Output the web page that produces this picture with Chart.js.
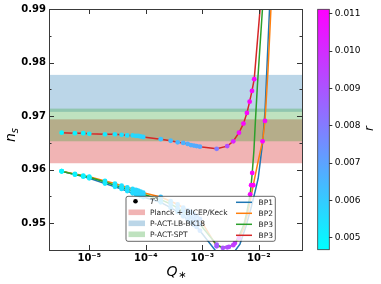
<!DOCTYPE html>
<html>
<head>
<meta charset="utf-8">
<script src="https://cdn.jsdelivr.net/npm/chart.js@4.4.1/dist/chart.umd.min.js"></script>
<style>
    html, body { margin: 0; padding: 0; background: #fff; }
    #wrap { position: relative; width: 381px; height: 284px; }
    #main { position: absolute; left: 0; top: 0; }
    #cbar { position: absolute; left: 300px; top: 0; }
</style>
</head>
<body>
<div id="wrap">
    <canvas id="main" width="381" height="284"></canvas>
    <canvas id="cbar" width="81" height="284"></canvas>
</div>
<script>
    "use strict";

    // ---- data ----
    var qLow = [3.25e-6, 5.58e-6, 7.83e-6, 1.0e-5, 1.90e-5, 2.85e-5, 3.74e-5, 4.71e-5, 5.86e-5, 6.71e-5, 7.36e-5, 8.12e-5, 9.03e-5,
        1.84e-4, 2.76e-4, 3.67e-4, 4.61e-4, 5.52e-4, 6.31e-4, 7.13e-4, 7.96e-4, 9.10e-4];
    var rLow = [0.0049, 0.0050, 0.0050, 0.0051, 0.0052, 0.0053, 0.0054, 0.0055, 0.0056, 0.0057, 0.0057, 0.0058, 0.0058,
        0.0062, 0.0064, 0.0065, 0.0066, 0.0067, 0.0067, 0.0068, 0.0068, 0.0069];

    var qRed = qLow.concat([1.80e-3, 2.77e-3, 3.54e-3, 4.47e-3, 5.36e-3, 6.18e-3, 6.90e-3, 7.59e-3, 8.32e-3, 1.09e-2]);
    var nsRed = [0.9669, 0.9668, 0.9668, 0.9667, 0.9666, 0.9666, 0.9665, 0.9664, 0.9664, 0.9663, 0.9663, 0.9662, 0.9661,
        0.9657, 0.9654, 0.9651, 0.9650, 0.9648, 0.9646, 0.9645, 0.9644, 0.9643,
        0.9639, 0.9644, 0.9653, 0.9669, 0.9686, 0.9706, 0.9727, 0.9747, 0.9769, 0.9917];
    var rRed = rLow.concat([0.0080, 0.0092, 0.0102, 0.0108, 0.0110, 0.0110, 0.0110, 0.0110, 0.0110, null]);

    var qOrange = qLow.concat([1.80e-3, 2.77e-3, 3.54e-3, 4.47e-3, 5.47e-3, 6.57e-3, 8.00e-3, 9.68e-3, 1.17e-2, 1.29e-2, 1.46e-2, 1.64e-2, 1.71e-2]);
    var nsOrange = [0.9597, 0.9592, 0.9589, 0.9587, 0.9579, 0.9574, 0.9570, 0.9567, 0.9564, 0.9562, 0.9561, 0.9559, 0.9557,
        0.9549, 0.9541, 0.9535, 0.9529, 0.9524, 0.9521, 0.9517, 0.9513, 0.9508,
        0.9457, 0.9455, 0.9459, 0.9472, 0.9491, 0.9524, 0.9571, 0.9614, 0.9653, 0.9691, 0.9786, 0.9898, 0.9936];
    var rOrange = rLow.concat([0.0088, 0.0092, 0.0096, 0.0100, null, null, 0.0110, null, 0.0110, 0.0110, null, null, null]);

    var qGreen = qLow.concat([1.80e-3, 2.32e-3, 2.97e-3, 3.79e-3, 4.47e-3, 5.47e-3, 6.18e-3, 7.05e-3, 7.33e-3, 7.67e-3, 8.22e-3, 8.75e-3, 9.48e-3, 1.16e-2, 1.20e-2]);
    var nsGreen = [0.9597, 0.9591, 0.9588, 0.9586, 0.9577, 0.9571, 0.9567, 0.9564, 0.9560, 0.9558, 0.9557, 0.9555, 0.9554,
        0.9544, 0.9536, 0.9528, 0.9522, 0.9516, 0.9511, 0.9508, 0.9504, 0.9498,
        0.9460, 0.9454, 0.9456, 0.9463, 0.9476, 0.9498, 0.9521, 0.9554, 0.9571, 0.9594, 0.9636, 0.9693, 0.9758, 0.9898, 0.9917];
    var rGreen = rLow.concat([0.0088, 0.0090, 0.0093, 0.0096, null, null, null, 0.0110, 0.0110, 0.0110, null, null, null, null, null]);

    var qBlue = qLow.concat([1.80e-3, 2.77e-3, 3.54e-3, 4.65e-3, 5.93e-3, 7.28e-3, 8.57e-3, 9.79e-3, 1.17e-2, 1.29e-2, 1.55e-2, 1.64e-2]);
    var nsBlue = [0.9597, 0.9591, 0.9587, 0.9584, 0.9574, 0.9568, 0.9564, 0.9560, 0.9556, 0.9554, 0.9553, 0.9551, 0.9549,
        0.9539, 0.9529, 0.9521, 0.9513, 0.9507, 0.9502, 0.9497, 0.9493, 0.9486,
        0.9446, 0.9438, 0.9444, 0.9461, 0.9494, 0.9528, 0.9558, 0.9584, 0.9650, 0.9708, 0.9898, 0.9936];
    var rBlue = rLow.concat([null, null, null, null, null, null, null, null, null, null, null, null]);

    // observational bands (ns ranges)
    var bandNames = ["Planck + BICEP/Keck", "P-ACT-LB-BK18", "P-ACT-SPT"];
    var bandLo = [0.9612, 0.9708, 0.9653];
    var bandHi = [0.9694, 0.9777, 0.9714];
    var bandColors = ["rgba(214,39,40,0.35)", "rgba(31,119,180,0.3)", "rgba(44,160,44,0.3)"];

    var curveNames = ["BP1", "BP2", "BP3", "BP3"];
    var curveColors = ["#1f77b4", "#ff7f0e", "#2ca02c", "#d62728"];

    var xTicks = [1e-5, 1e-4, 1e-3, 1e-2];
    var xTickLabels = ["10\u207b\u2075", "10\u207b\u2074", "10\u207b\u00b3", "10\u207b\u00b2"];
    var yTicks = [0.95, 0.96, 0.97, 0.98, 0.99];
    var yMinor = [0.945, 0.955, 0.965, 0.975, 0.985];
    var cbTicks = [0.005, 0.006, 0.007, 0.008, 0.009, 0.010, 0.011];
    var cbMin = 0.00468, cbMax = 0.01112;

    var FONT = "'DejaVu Sans', sans-serif";

    function coolColor(r) {
        var t = (r - cbMin) / (cbMax - cbMin);
        t = Math.max(0, Math.min(1, t));
        return "rgb(" + Math.round(255 * t) + "," + Math.round(255 * (1 - t)) + ",255)";
    }

    function pts(q, ns) {
        return q.map(function (v, i) { return {x: v, y: ns[i]}; });
    }

    function markers(q, ns, r) {
        var d = [], c = [];
        q.forEach(function (v, i) {
            if (r[i] !== null) {
                d.push({x: v, y: ns[i]});
                c.push(coolColor(r[i]));
            }
        });
        return {data: d, colors: c};
    }

    var curves = [
        [qBlue, nsBlue, rBlue],
        [qOrange, nsOrange, rOrange],
        [qGreen, nsGreen, rGreen],
        [qRed, nsRed, rRed]
    ];

    var datasets = [];
    curves.forEach(function (c, i) {
        datasets.push({
            type: "line",
            data: pts(c[0], c[1]),
            borderColor: curveColors[i],
            borderWidth: 1.5,
            pointRadius: 0,
            fill: false,
            tension: 0,
            order: 10 - i
        });
    });
    curves.forEach(function (c, i) {
        var m = markers(c[0], c[1], c[2]);
        datasets.push({
            type: "scatter",
            data: m.data,
            backgroundColor: m.colors,
            pointBackgroundColor: m.colors,
            pointBorderWidth: 0,
            pointRadius: 2.4,
            showLine: false,
            order: 1
        });
    });

    // bands, inward ticks, spines, legend, axis titles
    var decor = {
        id: "decor",
        beforeDatasetsDraw: function (chart) {
            var ctx = chart.ctx, a = chart.chartArea, y = chart.scales.y;
            ctx.save();
            bandLo.forEach(function (lo, i) {
                var top = y.getPixelForValue(bandHi[i]), bot = y.getPixelForValue(lo);
                ctx.fillStyle = bandColors[i];
                ctx.fillRect(a.left, top, a.right - a.left, bot - top);
            });
            ctx.restore();
        },
        afterDatasetsDraw: function (chart) {
            var ctx = chart.ctx, a = chart.chartArea, x = chart.scales.x, y = chart.scales.y;
            ctx.save();
            ctx.strokeStyle = "#333";
            ctx.lineWidth = 1;
            ctx.beginPath();
            xTicks.forEach(function (v) {
                var px = Math.round(x.getPixelForValue(v)) + 0.5;
                ctx.moveTo(px, a.bottom); ctx.lineTo(px, a.bottom - 5);
                ctx.moveTo(px, a.top); ctx.lineTo(px, a.top + 5);
            });
            yTicks.forEach(function (v) {
                var py = Math.round(y.getPixelForValue(v)) + 0.5;
                ctx.moveTo(a.left, py); ctx.lineTo(a.left + 5, py);
                ctx.moveTo(a.right, py); ctx.lineTo(a.right - 5, py);
            });
            yMinor.forEach(function (v) {
                var py = Math.round(y.getPixelForValue(v)) + 0.5;
                ctx.moveTo(a.left, py); ctx.lineTo(a.left + 2.5, py);
                ctx.moveTo(a.right, py); ctx.lineTo(a.right - 2.5, py);
            });
            ctx.stroke();
            ctx.strokeStyle = "#3a3a3a";
            ctx.strokeRect(Math.round(a.left) + 0.5, Math.round(a.top) + 0.5,
                Math.round(a.right - a.left), Math.round(a.bottom - a.top));

            // legend
            var lx = a.left + 77, ly = a.top + 187.3, lw = 149.3, lh = 45;
            ctx.fillStyle = "rgba(255,255,255,0.8)";
            ctx.strokeStyle = "rgba(0,0,0,0.75)";
            ctx.lineWidth = 0.8;
            ctx.beginPath();
            ctx.roundRect(lx, ly, lw, lh, 2);
            ctx.fill();
            ctx.stroke();

            var rows = [ly + 5, ly + 16, ly + 27, ly + 38];
            ctx.textBaseline = "middle";
            ctx.textAlign = "left";
            ctx.fillStyle = "#000";
            ctx.beginPath();
            ctx.arc(lx + 9.5, rows[0], 2.3, 0, Math.PI * 2);
            ctx.fill();
            ctx.font = "italic 7.5px " + FONT;
            ctx.fillStyle = "#222";
            ctx.fillText("T", lx + 24, rows[0] + 0.5);
            ctx.font = "5.5px " + FONT;
            ctx.fillText("3", lx + 28.8, rows[0] - 2);
            ctx.font = "7.5px " + FONT;
            bandNames.forEach(function (n, i) {
                ctx.fillStyle = bandColors[i];
                ctx.fillRect(lx + 2.5, rows[i + 1] - 2.8, 16.5, 5.6);
                ctx.fillStyle = "#222";
                ctx.fillText(n, lx + 24, rows[i + 1] + 0.5);
            });
            curveNames.forEach(function (n, i) {
                var ry = rows[i] + 1;
                ctx.strokeStyle = curveColors[i];
                ctx.lineWidth = 1.5;
                ctx.beginPath();
                ctx.moveTo(lx + 110, ry); ctx.lineTo(lx + 126, ry);
                ctx.stroke();
                ctx.fillStyle = "#222";
                ctx.fillText(n, lx + 132.5, ry + 0.5);
            });
            ctx.restore();
        },
        afterDraw: function (chart) {
            var ctx = chart.ctx;
            ctx.save();
            ctx.fillStyle = "#000";
            ctx.textAlign = "left";
            ctx.textBaseline = "alphabetic";
            // x title Q_*
            ctx.font = "italic 14px " + FONT;
            var qx = 166.5, qy = 276;
            ctx.fillText("Q", qx, qy);
            ctx.font = "10px " + FONT;
            ctx.fillText("\u2217", qx + 11.5, qy + 2);
            // y title n_s
            ctx.translate(15, 142);
            ctx.rotate(-Math.PI / 2);
            ctx.font = "italic 14px " + FONT;
            ctx.fillText("n", 0, 0);
            ctx.font = "italic 10px " + FONT;
            ctx.fillText("s", 8.8, 2.5);
            ctx.restore();
        }
    };

    new Chart(document.getElementById("main"), {
        type: "scatter",
        data: {datasets: datasets},
        options: {
            responsive: false,
            animation: false,
            layout: {padding: {left: 0, top: 9, right: 79, bottom: 0}},
            plugins: {legend: {display: false}, tooltip: {enabled: false}},
            scales: {
                x: {
                    type: "logarithmic",
                    min: 1.94e-6,
                    max: 5.83e-2,
                    afterBuildTicks: function (s) {
                        s.ticks = xTicks.map(function (v) { return {value: v}; });
                    },
                    afterFit: function (s) { s.height = 34; },
                    ticks: {
                        autoSkip: false,
                        maxRotation: 0,
                        padding: 2,
                        color: "#000",
                        font: {family: FONT, size: 10, weight: "bold"},
                        callback: function (v, i) { return xTickLabels[i]; }
                    },
                    grid: {display: false, drawTicks: false},
                    border: {display: false}
                },
                y: {
                    min: 0.945,
                    max: 0.99,
                    afterBuildTicks: function (s) {
                        s.ticks = yTicks.map(function (v) { return {value: v}; });
                    },
                    afterFit: function (s) { s.width = 49; },
                    ticks: {
                        padding: 3,
                        color: "#000",
                        font: {family: FONT, size: 10, weight: "bold"},
                        callback: function (v) { return v.toFixed(2); }
                    },
                    grid: {display: false, drawTicks: false},
                    border: {display: false}
                }
            }
        },
        plugins: [decor]
    });

    // colour bar for r
    var cbarDecor = {
        id: "cbarDecor",
        beforeDraw: function (chart) {
            var ctx = chart.ctx, a = chart.chartArea, s = chart.scales.y;
            var g = ctx.createLinearGradient(0, s.getPixelForValue(cbMin), 0, s.getPixelForValue(cbMax));
            g.addColorStop(0, coolColor(cbMin));
            g.addColorStop(1, coolColor(cbMax));
            ctx.save();
            ctx.fillStyle = g;
            ctx.fillRect(a.left, a.top, a.right - a.left, a.bottom - a.top);
            ctx.restore();
        },
        afterDraw: function (chart) {
            var ctx = chart.ctx, a = chart.chartArea;
            ctx.save();
            ctx.strokeStyle = "#3a3a3a";
            ctx.lineWidth = 0.8;
            ctx.strokeRect(a.left, a.top, a.right - a.left, a.bottom - a.top);
            ctx.fillStyle = "#000";
            ctx.translate(73, 131);
            ctx.rotate(-Math.PI / 2);
            ctx.font = "italic 12px " + FONT;
            ctx.fillText("r", 0, 0);
            ctx.restore();
        }
    };

    new Chart(document.getElementById("cbar"), {
        type: "scatter",
        data: {datasets: []},
        options: {
            responsive: false,
            animation: false,
            layout: {padding: {left: 17.7, top: 9.3, right: 0, bottom: 34.3}},
            plugins: {legend: {display: false}, tooltip: {enabled: false}},
            scales: {
                x: {display: false},
                y: {
                    position: "right",
                    min: cbMin,
                    max: cbMax,
                    afterBuildTicks: function (s) {
                        s.ticks = cbTicks.map(function (v) { return {value: v}; });
                    },
                    afterFit: function (s) { s.width = 51.7; },
                    ticks: {
                        padding: 2.5,
                        color: "#000",
                        font: {family: FONT, size: 9},
                        callback: function (v) { return v.toFixed(3); }
                    },
                    grid: {drawOnChartArea: false, drawTicks: true, tickLength: 3, color: "#333"},
                    border: {display: false}
                }
            }
        },
        plugins: [cbarDecor]
    });
</script>
</body>
</html>
